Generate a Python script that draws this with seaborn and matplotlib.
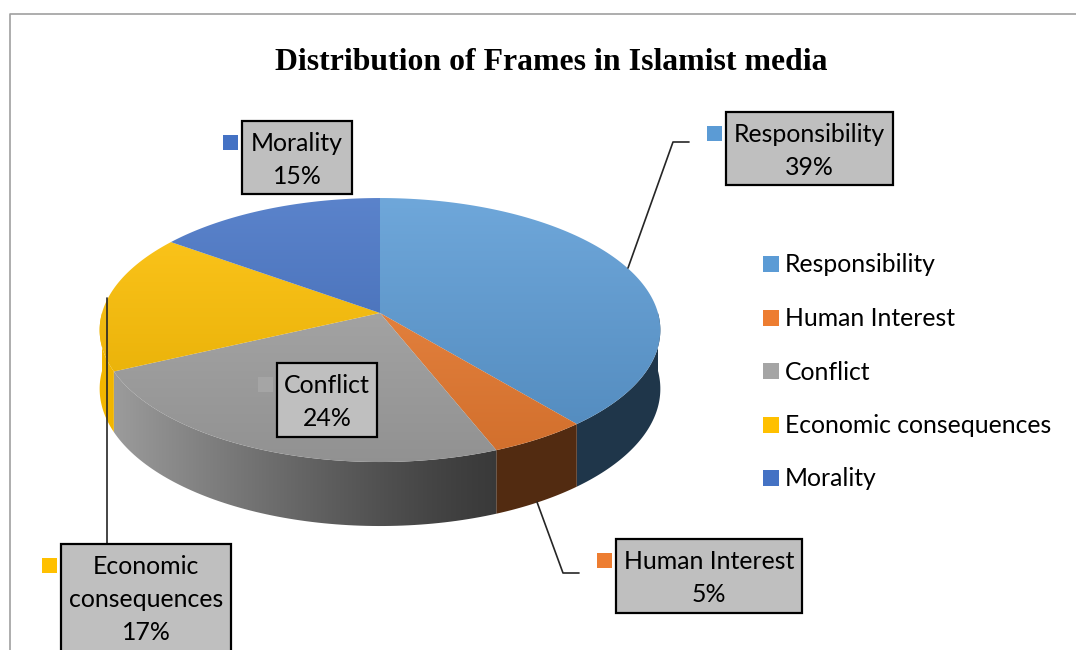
import numpy as np
import matplotlib
matplotlib.use("Agg")
import matplotlib.pyplot as plt
from matplotlib.patches import Polygon, Rectangle
import seaborn as sns

# data
frames = ["Responsibility", "Human Interest", "Conflict", "Economic consequences", "Morality"]
shares = [39, 5, 24, 17, 15]
frame_colors = ["#5B9BD5", "#ED7D31", "#A5A5A5", "#FFC000", "#4472C4"]
title = "Distribution of Frames in Islamist media"

sns.set_style("white")
palette = sns.color_palette(frame_colors)
plt.rcParams["font.family"] = ["Lato", "DejaVu Sans"]

fig = plt.figure(figsize=(10.76, 6.5), dpi=100)
ax = fig.add_axes([0, 0, 1, 1])

# the 3D pie is drawn in pixel coordinates of the picture
cx, cy, rx, ry, persp = 380, 313, 278, 129.8, 0.129


def proj(theta):
    t = np.radians(theta)
    u, v = np.cos(t), np.sin(t)
    w = 1 + persp * v
    return cx + rx * u / w, cy - ry * v / w


def proj_bottom(theta):
    x, y = proj(theta)
    v = np.sin(np.radians(theta))
    return x, y + 58 + 6 * np.clip(-v, 0, None)


def gradient_fill(poly_xy, rgb, kind):
    patch = Polygon(poly_xy, closed=True, transform=ax.transData)
    x0, x1, y0, y1 = 80, 680, 180, 560
    xs = np.linspace(x0, x1, 300)
    ys = np.linspace(y0, y1, 200)
    X, Y = np.meshgrid(xs, ys)
    base = np.array(rgb)
    if kind == "top":
        t = np.clip((Y - 198) / (465 - 198), 0, 1)[..., None]
        light = base + (1 - base) * 0.12
        dark = base * 0.88
        img = light * (1 - t) + dark * t
    else:
        f = 0.35 + 0.6 * np.clip((495 - X) / 385, 0, 1) ** 1.2
        img = base * f[..., None]
    im = ax.imshow(np.clip(img, 0, 1), extent=(x0, x1, y1, y0), aspect="auto",
                   interpolation="bilinear", zorder=2 if kind == "side" else 3)
    im.set_clip_path(patch)


cum = np.concatenate([[0], np.cumsum(shares)])
starts = 90 - 360 * cum[:-1] / cum[-1]
ends = 90 - 360 * cum[1:] / cum[-1]

# side walls (front half only)
for a0, a1, col in zip(starts, ends, palette):
    lo, hi = max(a1, -180), min(a0, 0)
    if lo >= hi:
        continue
    th = np.linspace(lo, hi, 80)
    top = [proj(t) for t in th]
    bot = [proj_bottom(t) for t in th[::-1]]
    gradient_fill(top + bot, col, "side")

# top faces
for a0, a1, col in zip(starts, ends, palette):
    th = np.linspace(a0, a1, 120)
    pts = [(cx, cy)] + [proj(t) for t in th]
    gradient_fill(pts, col, "top")

# leader lines
line_kw = dict(color="#262626", lw=1.2, zorder=4)
ax.plot([628, 673, 689], [268, 142, 142], **line_kw)
ax.plot([537, 563, 579], [502, 573, 573], **line_kw)
ax.plot([107, 107], [298, 544], **line_kw)

# data label boxes: (left, top, width, height)
boxes = [(726, 112, 167, 73), (616, 539, 186, 74), (277, 363, 100, 74),
         (61, 544, 170, 115), (242, 121, 110, 73)]
label_lines = [["Responsibility"], ["Human Interest"], ["Conflict"],
               ["Economic", "consequences"], ["Morality"]]
for (bx, by, bw, bh), lines, share, col in zip(boxes, label_lines, shares, palette):
    ax.add_patch(Rectangle((bx, by), bw, bh, facecolor="#BFBFBF",
                           edgecolor="black", lw=1.6, zorder=5))
    ax.add_patch(Rectangle((bx - 19, by + 14), 15, 15, facecolor=col,
                           edgecolor="none", zorder=5))
    for k, txt in enumerate(lines + [f"{share}%"]):
        ax.text(bx + bw / 2, by + 30 + 33 * k, txt, ha="center", va="baseline",
                fontsize=17.9, color="black", zorder=6)

# legend
for k, (name, col) in enumerate(zip(frames, palette)):
    yc = 264 + 53.5 * k
    ax.add_patch(Rectangle((763, yc - 8), 16, 16, facecolor=col,
                           edgecolor="none", zorder=5))
    ax.text(785, yc + 8.5, name, ha="left", va="baseline", fontsize=17.8,
            color="black", zorder=6)

ax.text(551, 70, title, ha="center", va="baseline", fontsize=22.9,
        fontweight="bold", family="Liberation Serif", color="black")

# chart area frame
ax.plot([10, 10, 1076], [650, 14, 14], color="#A0A0A0", lw=1.2, zorder=1)

ax.set_xlim(0, 1076)
ax.set_ylim(650, 0)
ax.axis("off")
fig.savefig("out.png", dpi=100)
